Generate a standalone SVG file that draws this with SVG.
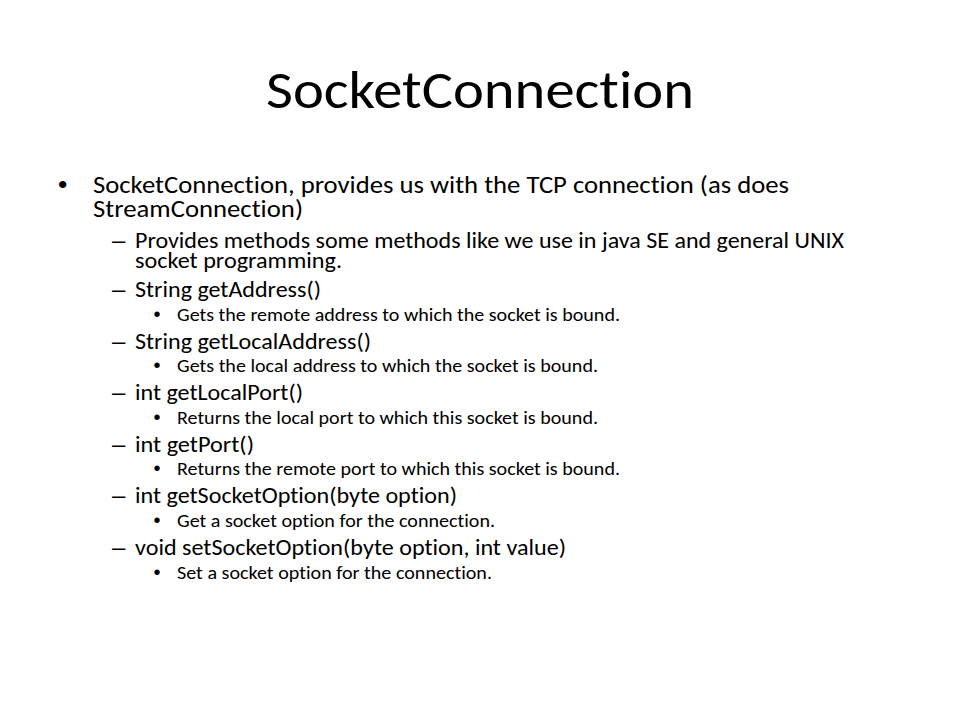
<svg xmlns="http://www.w3.org/2000/svg" width="960" height="720" viewBox="0 0 960 720">
<style>
.t{font-family:Carlito,Lato,"Open Sans",sans-serif;fill:#000;font-variant-ligatures:none}
.b{font-family:"Liberation Sans",Arial,sans-serif;fill:#000}
.l1{font-size:24.3px}
.l2{font-size:21.8px}
.l3{font-size:18.2px}
.bl1{font-size:26.67px}
.bl2{font-size:24px}
.bl3{font-size:20px}
</style>
<rect width="960" height="720" fill="#fff"/>
<g id="title">
<text class="t" x="480" y="107.5" font-size="53.4" text-anchor="middle" textLength="428" lengthAdjust="spacingAndGlyphs">SocketConnection</text>
</g>
<g id="body">
<text class="b bl1" x="58" y="192.5">•</text>
<text class="t l1" x="93" y="192.5" textLength="696" lengthAdjust="spacingAndGlyphs">SocketConnection, provides us with the TCP connection (as does</text>
<text class="t l1" x="93" y="216.5" textLength="210" lengthAdjust="spacingAndGlyphs">StreamConnection)</text>

<text class="b bl2" x="112" y="247.5">–</text>
<text class="t l2" x="135" y="247.5" textLength="709" lengthAdjust="spacingAndGlyphs">Provides methods some methods like we use in java SE and general UNIX</text>
<text class="t l2" x="135" y="267.5" textLength="207" lengthAdjust="spacingAndGlyphs">socket programming.</text>

<text class="b bl2" x="112" y="297">–</text>
<text class="t l2" x="135" y="297" textLength="186" lengthAdjust="spacingAndGlyphs">String getAddress()</text>
<text class="b bl3" x="153.5" y="320.5">•</text>
<text class="t l3" x="177" y="320.5" textLength="443" lengthAdjust="spacingAndGlyphs">Gets the remote address to which the socket is bound.</text>

<text class="b bl2" x="112" y="348.6">–</text>
<text class="t l2" x="135" y="348.6" textLength="236" lengthAdjust="spacingAndGlyphs">String getLocalAddress()</text>
<text class="b bl3" x="153.5" y="372.1">•</text>
<text class="t l3" x="177" y="372.1" textLength="421" lengthAdjust="spacingAndGlyphs">Gets the local address to which the socket is bound.</text>

<text class="b bl2" x="112" y="400.2">–</text>
<text class="t l2" x="135" y="400.2" textLength="168" lengthAdjust="spacingAndGlyphs">int getLocalPort()</text>
<text class="b bl3" x="153.5" y="423.7">•</text>
<text class="t l3" x="177" y="423.7" textLength="421" lengthAdjust="spacingAndGlyphs">Returns the local port to which this socket is bound.</text>

<text class="b bl2" x="112" y="451.8">–</text>
<text class="t l2" x="135" y="451.8" textLength="119" lengthAdjust="spacingAndGlyphs">int getPort()</text>
<text class="b bl3" x="153.5" y="475.3">•</text>
<text class="t l3" x="177" y="475.3" textLength="443" lengthAdjust="spacingAndGlyphs">Returns the remote port to which this socket is bound.</text>

<text class="b bl2" x="112" y="503.4">–</text>
<text class="t l2" x="135" y="503.4" textLength="322" lengthAdjust="spacingAndGlyphs">int getSocketOption(byte option)</text>
<text class="b bl3" x="153.5" y="526.9">•</text>
<text class="t l3" x="177" y="526.9" textLength="318" lengthAdjust="spacingAndGlyphs">Get a socket option for the connection.</text>

<text class="b bl2" x="112" y="555">–</text>
<text class="t l2" x="135" y="555" textLength="431" lengthAdjust="spacingAndGlyphs">void setSocketOption(byte option, int value)</text>
<text class="b bl3" x="153.5" y="578.5">•</text>
<text class="t l3" x="177" y="578.5" textLength="315" lengthAdjust="spacingAndGlyphs">Set a socket option for the connection.</text>
</g>
</svg>
